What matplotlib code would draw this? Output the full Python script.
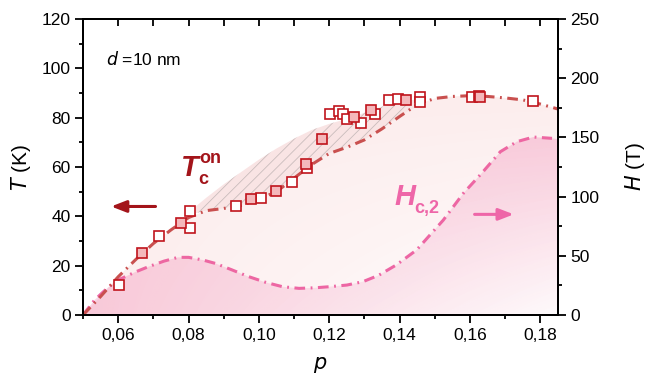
import numpy as np
import matplotlib.pyplot as plt
from matplotlib.ticker import MultipleLocator, FuncFormatter
from matplotlib.patches import Polygon

plt.rcParams['font.family'] = ['Liberation Sans', 'DejaVu Sans']
plt.rcParams['hatch.linewidth'] = 0.6

# onset Tc data points (p, T in K), open and filled squares
p_open = [0.0602, 0.0716, 0.0805, 0.0805, 0.0934, 0.1006, 0.1094, 0.1136, 0.1203, 0.1227,
          0.1238, 0.1251, 0.1289, 0.1329, 0.1369, 0.1396, 0.1457, 0.1457, 0.1605, 0.1624, 0.1779]
T_open = [12.2, 32.2, 42.2, 35.4, 44.2, 47.4, 54.0, 59.5, 81.5, 82.6,
          81.5, 79.6, 78.0, 81.5, 87.2, 87.4, 88.2, 86.2, 88.4, 88.6, 86.8]
p_full = [0.0669, 0.0778, 0.0978, 0.1049, 0.1135, 0.1179, 0.1269, 0.1318, 0.1419, 0.1629]
T_full = [25.1, 37.2, 47.2, 50.1, 61.1, 71.2, 80.1, 83.1, 87.0, 88.2]

# dash-dot guide curve for Tc (left axis)
p_tc = [0.050, 0.055, 0.060, 0.065, 0.070, 0.075, 0.080, 0.085, 0.090, 0.095, 0.100, 0.105,
        0.110, 0.115, 0.120, 0.125, 0.130, 0.135, 0.140, 0.145, 0.150, 0.155, 0.160, 0.165,
        0.170, 0.175, 0.180, 0.185]
T_tc = [0, 7.5, 15.5, 22.5, 29, 34.5, 39.5, 42.3, 43.2, 44.5, 47, 50,
        55.5, 61, 65.5, 68, 71, 75.5, 80.5, 85.3, 87.8, 88.6, 88.9, 88.6,
        88, 87.2, 85.5, 83.5]

# dash-dot guide curve for Hc2 (right axis, T)
p_hc = [0.050, 0.0533, 0.057, 0.060, 0.065, 0.0686, 0.073, 0.077, 0.080, 0.084, 0.0876, 0.092,
        0.0971, 0.102, 0.1067, 0.1114, 0.116, 0.120, 0.125, 0.1295, 0.134, 0.139, 0.1448,
        0.1524, 0.1581, 0.1633, 0.1686, 0.1733, 0.178, 0.1833, 0.185]
H_hc = [0, 12.7, 23, 29.6, 36.5, 40.8, 45.5, 48.7, 48.7, 46.5, 43.6, 38.5,
        32.4, 27.5, 23.9, 22.5, 23, 23.9, 25.3, 28.1, 33.5, 42.2, 54.9,
        80.2, 102.8, 119.7, 137.9, 146.4, 150.3, 149.2, 148.5]

# hatched band between scattered points and Tc curve
p_band = [0.0805, 0.085, 0.09, 0.095, 0.10, 0.105, 0.11, 0.115, 0.12, 0.125, 0.13, 0.135, 0.14, 0.1457]
T_band_top = [42.2, 47.5, 53, 58, 63, 67.5, 71.5, 75, 77.5, 79.5, 82, 84.5, 86.5, 87.5]
T_band_bot = [40.8, 42.3, 43.2, 44.5, 47, 50, 55.5, 61, 65.5, 68, 71, 75.5, 80.5, 85.5]

c_tc = '#c9504f'
c_pt = '#c0141c'
c_hc = '#ee66a8'
c_dark = '#a3141a'

fig = plt.figure(figsize=(6.5, 3.86), dpi=100)
ax = fig.add_axes([0.1277, 0.1839, 0.7308, 0.7669])
ax2 = ax.twinx()
ax.set_zorder(ax2.get_zorder() + 1)
ax.patch.set_visible(False)


def gradient_fill(axis, x, y, rgb, amax, ymax):
    verts = list(zip(x, y)) + [(x[-1], 0), (x[0], 0)]
    poly = Polygon(verts, closed=True, facecolor='none', edgecolor='none')
    axis.add_patch(poly)
    xx, yy = np.meshgrid(np.linspace(0, 1, 200), np.linspace(0, 1, 200))
    img = np.zeros((200, 200, 4))
    img[..., 0], img[..., 1], img[..., 2] = rgb
    img[..., 3] = amax * (1 - 0.92 * xx * (1 - yy))
    im = axis.imshow(img, extent=[x[0], x[-1], 0, ymax], origin='lower',
                     aspect='auto', zorder=0, interpolation='bilinear')
    im.set_clip_path(poly)


# Hc2 fill + curve on right axis
gradient_fill(ax2, p_hc, H_hc, (0.94, 0.40, 0.66), 0.27, 150)
ax2.plot(p_hc[:-1], H_hc[:-1], color=c_hc, lw=2.2, ls=(0, (3.5, 1.8, 0.6, 1.8)))

# Tc fill + curve on left axis
gradient_fill(ax, p_tc, T_tc, (0.92, 0.45, 0.45), 0.13, 89)
ax.fill_between(p_band, T_band_bot, T_band_top, facecolor='#f9e4e4', edgecolor='#c9bcbc',
                hatch='///', linewidth=0, zorder=1)
ax.plot(p_tc, T_tc, color=c_tc, lw=2.2, ls=(0, (3.5, 1.8, 0.6, 1.8)), zorder=2)

ax.plot(p_open, T_open, 's', ms=7.8, mfc='white', mec=c_pt, mew=1.2, zorder=3)
ax.plot(p_full, T_full, 's', ms=7.8, mfc='#f4b8bb', mec=c_pt, mew=1.2, zorder=4)

# annotations
ax.text(0.0566, 101.4, r'$d$ =10 nm', fontsize=12.5)
ax.text(0.0777, 56.4, 'T', fontsize=21, fontweight='bold', fontstyle='italic', color=c_dark)
ax.text(0.0828, 53.3, 'c', fontsize=13, fontweight='bold', color=c_dark)
ax.text(0.0830, 61.6, 'on', fontsize=13, fontweight='bold', color=c_dark)
ax.annotate('', xy=(0.0572, 44), xytext=(0.0714, 44),
            arrowprops=dict(arrowstyle='-|>,head_length=0.9,head_width=0.35', color=c_dark, lw=2.2))
ax.text(0.1386, 44.6, 'H', fontsize=21, fontweight='bold', fontstyle='italic', color=c_hc)
ax.text(0.1440, 41.4, 'c,2', fontsize=13, fontweight='bold', color=c_hc)
ax.annotate('', xy=(0.1732, 40.8), xytext=(0.1605, 40.8),
            arrowprops=dict(arrowstyle='-|>,head_length=0.9,head_width=0.35', color=c_hc, lw=2.2))

# axes
ax.set_xlim(0.05, 0.185)
ax.set_ylim(0, 120)
ax2.set_ylim(0, 250)
ax.xaxis.set_major_locator(MultipleLocator(0.02))
ax.xaxis.set_minor_locator(MultipleLocator(0.01))
ax.xaxis.set_major_formatter(FuncFormatter(lambda v, _: f'{v:.2f}'.replace('.', ',')))
ax.yaxis.set_major_locator(MultipleLocator(20))
ax.yaxis.set_minor_locator(MultipleLocator(10))
ax2.yaxis.set_major_locator(MultipleLocator(50))
ax2.yaxis.set_minor_locator(MultipleLocator(25))

ax.tick_params(which='both', direction='out', width=1.3, labelsize=12.5, top=False)
ax.tick_params(which='major', length=5.5)
ax.tick_params(which='minor', length=3)
ax2.tick_params(which='both', direction='out', width=1.3, labelsize=12.5)
ax2.tick_params(which='major', length=5.5)
ax2.tick_params(which='minor', length=3)
sec = ax.secondary_xaxis('top')
sec.xaxis.set_major_locator(MultipleLocator(0.02))
sec.xaxis.set_minor_locator(MultipleLocator(0.01))
sec.tick_params(which='both', direction='in', length=5, width=1.3, labeltop=False)
sec.spines['top'].set_linewidth(1.4)

for a in (ax, ax2):
    for s in a.spines.values():
        s.set_linewidth(1.4)

ax.set_xlabel(r'$p$', fontsize=15, labelpad=9)
ax.set_ylabel(r'$T$ (K)', fontsize=15, labelpad=6)
ax2.set_ylabel(r'$H$ (T)', fontsize=15, labelpad=17, rotation=90)

plt.savefig('out.png', dpi=100)
